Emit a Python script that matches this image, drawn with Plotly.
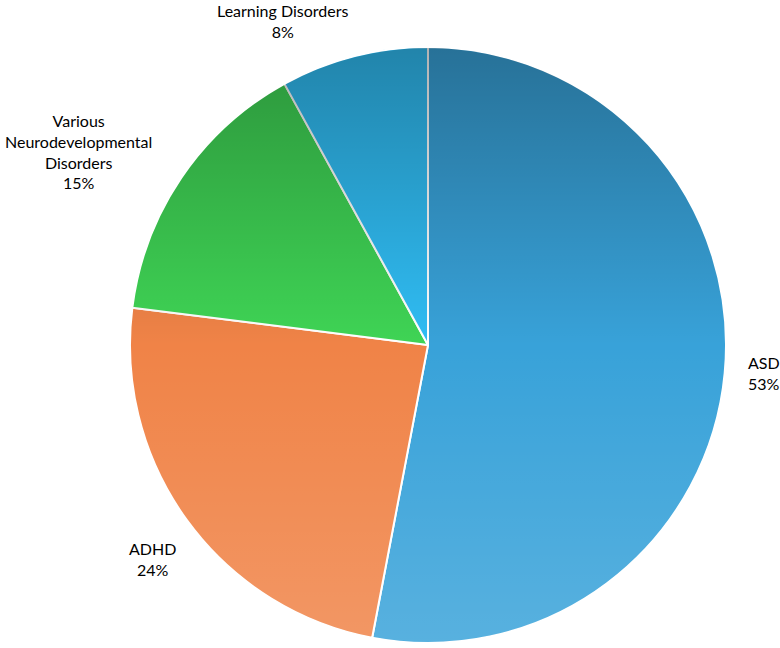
import base64
import plotly.graph_objects as go

labels = ["ASD", "ADHD", "Various<br>Neurodevelopmental<br>Disorders", "Learning Disorders"]
values = [53, 24, 15, 8]
colors = ["#38a2d9", "#f08347", "#3fd455", "#30bdf4"]
# label anchor positions in pixels (text placement only)
label_px = [(746, 373), (152, 559), (78, 152), (283, 21)]
label_anchor = ["left", "center", "center", "center"]

W, H = 780, 648
cx, cy, r = 428, 345, 298

fig = go.Figure(go.Pie(
    labels=labels, values=values, sort=False, direction="clockwise", rotation=0,
    marker=dict(colors=colors, line=dict(color="white", width=2)),
    textinfo="none", hoverinfo="label+percent", showlegend=False,
    domain=dict(x=[(cx - r) / W, (cx + r) / W], y=[1 - (cy + r) / H, 1 - (cy - r) / H]),
))

# vertical shading overlay (decorative gradient, darker top / lighter bottom)
svg = (
    '<svg xmlns="http://www.w3.org/2000/svg" width="596" height="596" viewBox="0 0 596 596">'
    '<defs><linearGradient id="g" x1="0" y1="0" x2="0" y2="1">'
    '<stop offset="0" stop-color="#000000" stop-opacity="0.3"/>'
    '<stop offset="0.5" stop-color="#000000" stop-opacity="0"/>'
    '<stop offset="0.5" stop-color="#ffffff" stop-opacity="0"/>'
    '<stop offset="1" stop-color="#ffffff" stop-opacity="0.16"/>'
    '</linearGradient></defs>'
    '<circle cx="298" cy="298" r="297" fill="url(#g)"/></svg>'
)
uri = "data:image/svg+xml;base64," + base64.b64encode(svg.encode()).decode()
fig.add_layout_image(
    source=uri, xref="paper", yref="paper",
    x=(cx - r) / W, y=1 - (cy - r) / H, sizex=2 * r / W, sizey=2 * r / H,
    xanchor="left", yanchor="top", sizing="stretch", layer="above",
)

total = sum(values)
for lab, v, (px, py), anc in zip(labels, values, label_px, label_anchor):
    fig.add_annotation(
        x=px / W, y=1 - py / H, xref="paper", yref="paper",
        text=f"{lab}<br>{round(100 * v / total)}%", showarrow=False,
        font=dict(family="Lato", size=16, color="#000000"), align=anc,
        xanchor=anc, yanchor="middle",
    )

fig.update_layout(width=W, height=H, margin=dict(l=0, r=0, t=0, b=0),
                  paper_bgcolor="white", plot_bgcolor="white")
fig.write_html("out.html")
